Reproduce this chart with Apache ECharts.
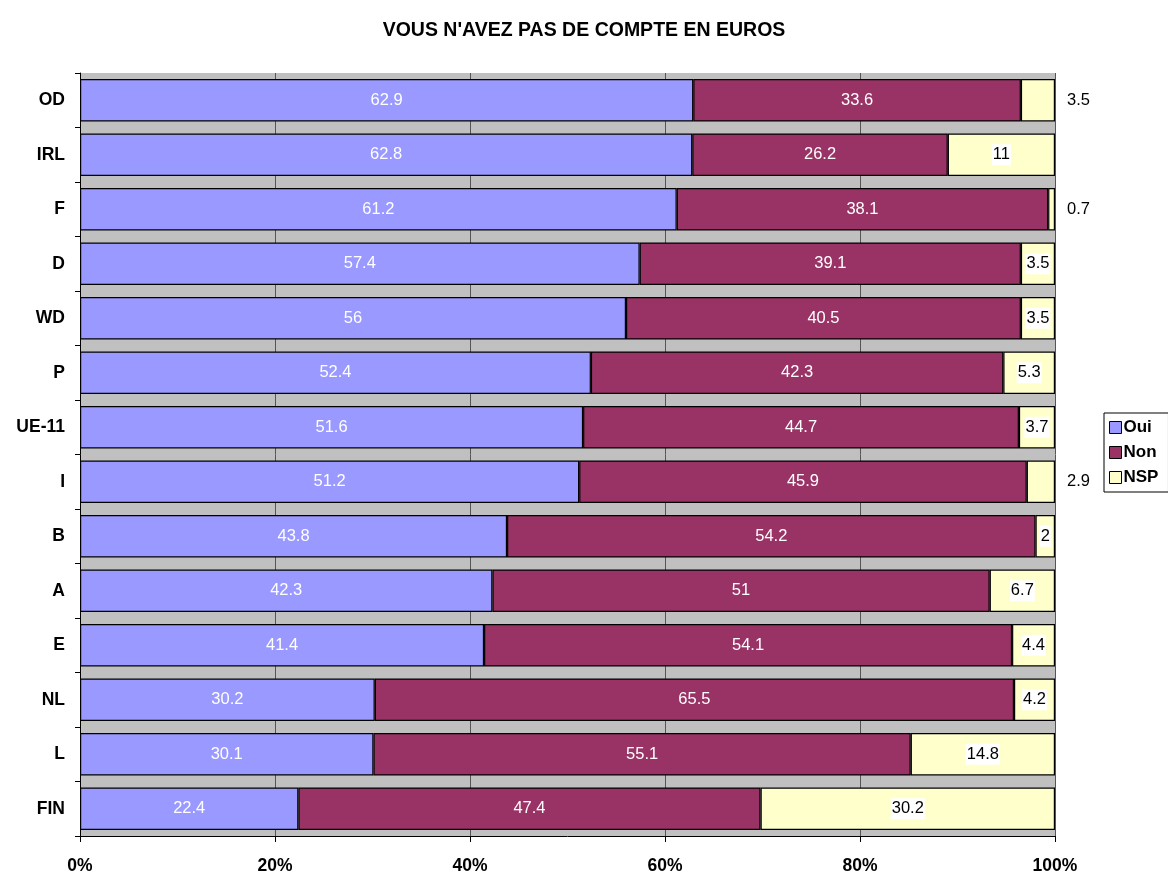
<!DOCTYPE html>
<html><head><meta charset="utf-8">
<script src="https://cdn.jsdelivr.net/npm/echarts@6/dist/echarts.min.js"></script>
<style>html,body{margin:0;padding:0;background:#fff}#c{width:1168px;height:875px}</style>
</head><body><div id="c"></div>
<script>
const title = "VOUS N'AVEZ PAS DE COMPTE EN EUROS";
const categories = ['OD','IRL','F','D','WD','P','UE-11','I','B','A','E','NL','L','FIN'];
const oui = [62.9,62.8,61.2,57.4,56,52.4,51.6,51.2,43.8,42.3,41.4,30.2,30.1,22.4];
const non = [33.6,26.2,38.1,39.1,40.5,42.3,44.7,45.9,54.2,51,54.1,65.5,55.1,47.4];
const nsp = [3.5,11,0.7,3.5,3.5,5.3,3.7,2.9,2,6.7,4.4,4.2,14.8,30.2];
const outsideNsp = ['OD','F','I'];
const xTicks = [0,20,40,60,80,100];

const totals = categories.map((c,i)=>oui[i]+non[i]+nsp[i]);
const FONT = 'Liberation Sans, Arial, sans-serif';
function mk(arr, name){
  return arr.map((v,i)=>{
    const d = {value: v/totals[i]*100, raw: v};
    if (name==='NSP' && outsideNsp.indexOf(categories[i])>=0){
      d.label = {position:'right', distance:12, backgroundColor:'transparent', padding:0};
    }
    return d;
  });
}
const colors = {Oui:'#9999FF', Non:'#993366', NSP:'#FFFFCC'};
function series(name, arr, lblColor, bg){
  return {
    name, type:'bar', stack:'t', barCategoryGap:'22%',
    data: mk(arr,name),
    itemStyle:{color:colors[name], borderColor:'#000', borderWidth:1.2},
    label:{show:true, position:'inside', color:lblColor, fontSize:16.5, fontFamily:FONT,
      backgroundColor:bg, padding:[2,1],
      formatter:p=>String(p.data.raw)},
    emphasis:{disabled:true}
  };
}
const chart = echarts.init(document.getElementById('c'), null, {renderer:'canvas'});
chart.setOption({
  animation:false,
  backgroundColor:'#fff',
  title:{text:title, left:'center', top:16,
    textStyle:{fontSize:19.5, fontWeight:'bold', fontFamily:FONT, color:'#000'}},
  grid:{left:80, right:113, top:73, bottom:38, show:true, backgroundColor:'#C0C0C0', borderWidth:0},
  legend:{orient:'vertical', left:1104, top:413, itemWidth:12, itemHeight:12, itemGap:8,
    padding:[6,10,6,5], borderColor:'#000', borderWidth:1, backgroundColor:'#fff',
    data:['Oui','Non','NSP'], icon:'rect',
    itemStyle:{borderColor:'#000', borderWidth:1},
    textStyle:{fontSize:17, fontWeight:'bold', fontFamily:FONT, color:'#000', padding:[0,0,0,-3]}},
  xAxis:{type:'value', min:0, max:100, interval:20,
    axisLine:{show:true, lineStyle:{color:'#000'}},
    axisTick:{show:true, length:6, lineStyle:{color:'#000'}},
    splitLine:{show:true, lineStyle:{color:'#555', width:1}},
    axisLabel:{formatter:v=>xTicks.indexOf(v)>=0? v+'%':'', fontSize:17.5, fontWeight:'bold', fontFamily:FONT, color:'#000', margin:21}},
  yAxis:{type:'category', data:categories, inverse:true,
    axisLine:{show:true, lineStyle:{color:'#000'}},
    axisTick:{show:true, length:5, lineStyle:{color:'#000'}},
    axisLabel:{fontSize:17.5, fontWeight:'bold', fontFamily:FONT, color:'#000', margin:15}},
  series:[
    series('Oui', oui, '#fff', 'transparent'),
    series('Non', non, '#fff', 'transparent'),
    series('NSP', nsp, '#000', '#fff')
  ]
});
</script></body></html>
